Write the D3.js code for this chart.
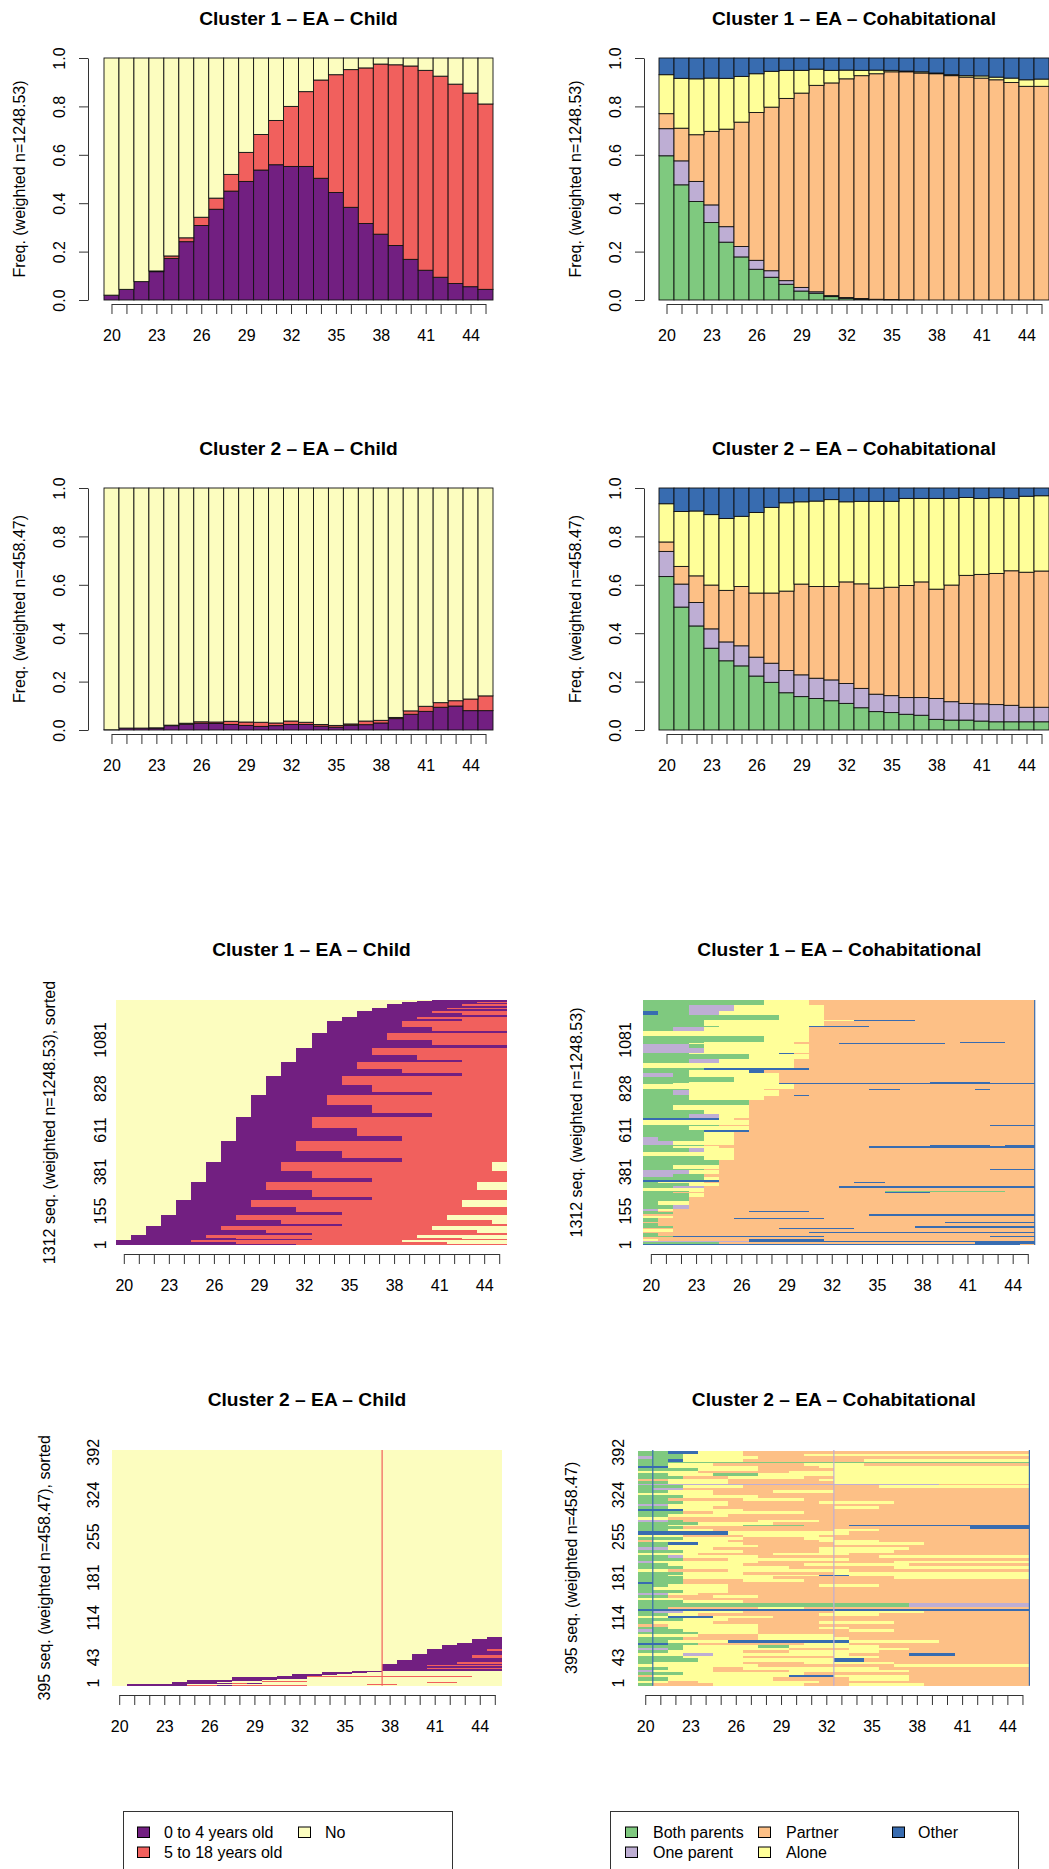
<!DOCTYPE html>
<html>
<head>
<meta charset="utf-8">
<script src="https://cdn.jsdelivr.net/npm/d3@7"></script>
<style>
  body { margin: 0; background: #fff; }
  svg { display: block; font-family: "Liberation Sans", Arial, Helvetica, sans-serif; }
</style>
</head>
<body>
<svg id="chart" width="1049" height="1869"></svg>
<script>
// =========================
// DATA
// =========================

const ages = [20, 21, 22, 23, 24, 25, 26, 27, 28, 29, 30, 31, 32, 33, 34, 35, 36, 37, 38, 39, 40, 41, 42, 43, 44, 45];
const xTickLabels = [20, 23, 26, 29, 32, 35, 38, 41, 44];
const freqTicks = [0, 0.2, 0.4, 0.6, 0.8, 1.0];

// child states: a = 0 to 4 years old, b = 5 to 18 years old, n = No
const childKeys = ['a', 'b', 'n'];
const childLabels = ['0 to 4 years old', '5 to 18 years old', 'No'];
const childColors = { a: '#721F81', b: '#F1605D', n: '#FCFDBF' };

// cohabitational states: g = Both parents, p = One parent, o = Partner, y = Alone, u = Other
const cohabKeys = ['g', 'p', 'o', 'y', 'u'];
const cohabLabels = ['Both parents', 'One parent', 'Partner', 'Alone', 'Other'];
const cohabColors = { g: '#7FC97F', p: '#BEAED4', o: '#FDC086', y: '#FFFF99', u: '#386CB0' };

// cluster 1 - child (state distribution)
const c1ChildA = [0.020, 0.044, 0.076, 0.117, 0.172, 0.241, 0.308, 0.375, 0.450, 0.490, 0.537, 0.559, 0.552, 0.552, 0.503, 0.444, 0.383, 0.316, 0.272, 0.225, 0.168, 0.123, 0.094, 0.068, 0.055, 0.044];
const c1ChildB = [0.000, 0.000, 0.000, 0.003, 0.010, 0.016, 0.034, 0.046, 0.069, 0.120, 0.147, 0.183, 0.248, 0.309, 0.406, 0.487, 0.569, 0.643, 0.703, 0.747, 0.799, 0.826, 0.831, 0.824, 0.800, 0.766];
const c1ChildN = [0.980, 0.956, 0.924, 0.880, 0.818, 0.743, 0.658, 0.579, 0.481, 0.390, 0.316, 0.258, 0.200, 0.139, 0.091, 0.069, 0.048, 0.041, 0.025, 0.028, 0.033, 0.051, 0.075, 0.108, 0.145, 0.190];

// cluster 1 - cohabitational
const c1CohabG = [0.596, 0.476, 0.407, 0.320, 0.239, 0.178, 0.127, 0.094, 0.065, 0.037, 0.028, 0.014, 0.007, 0.004, 0.002, 0.001, 0.001, 0, 0, 0, 0, 0, 0, 0, 0, 0];
const c1CohabP = [0.112, 0.099, 0.083, 0.073, 0.064, 0.043, 0.037, 0.027, 0.015, 0.015, 0.006, 0.004, 0.003, 0.002, 0.001, 0.001, 0, 0, 0, 0, 0, 0, 0, 0, 0, 0];
const c1CohabO = [0.062, 0.135, 0.193, 0.304, 0.403, 0.514, 0.611, 0.676, 0.753, 0.803, 0.853, 0.879, 0.904, 0.921, 0.932, 0.941, 0.942, 0.938, 0.935, 0.927, 0.921, 0.917, 0.910, 0.899, 0.883, 0.883];
const c1CohabY = [0.161, 0.206, 0.231, 0.220, 0.210, 0.189, 0.160, 0.148, 0.116, 0.094, 0.067, 0.052, 0.036, 0.022, 0.015, 0.006, 0.003, 0.005, 0.003, 0.004, 0.006, 0.009, 0.011, 0.018, 0.027, 0.030];
const c1CohabU = [0.069, 0.084, 0.086, 0.083, 0.084, 0.076, 0.065, 0.055, 0.051, 0.051, 0.046, 0.051, 0.050, 0.051, 0.050, 0.051, 0.054, 0.057, 0.062, 0.069, 0.073, 0.074, 0.079, 0.083, 0.090, 0.087];

// cluster 2 - child
const c2ChildA = [0.001, 0.008, 0.008, 0.008, 0.018, 0.024, 0.028, 0.027, 0.023, 0.019, 0.015, 0.018, 0.023, 0.023, 0.016, 0.012, 0.020, 0.022, 0.029, 0.047, 0.065, 0.077, 0.094, 0.099, 0.080, 0.080];
const c2ChildB = [0.000, 0.000, 0.000, 0.001, 0.002, 0.004, 0.006, 0.006, 0.013, 0.014, 0.017, 0.011, 0.014, 0.009, 0.007, 0.007, 0.005, 0.015, 0.011, 0.005, 0.014, 0.021, 0.019, 0.022, 0.048, 0.061];
const c2ChildN = [0.999, 0.992, 0.992, 0.991, 0.980, 0.972, 0.966, 0.967, 0.964, 0.967, 0.968, 0.971, 0.963, 0.968, 0.977, 0.981, 0.975, 0.963, 0.960, 0.948, 0.921, 0.902, 0.887, 0.879, 0.872, 0.859];

// cluster 2 - cohabitational
const c2CohabG = [0.634, 0.508, 0.430, 0.338, 0.286, 0.265, 0.223, 0.197, 0.154, 0.138, 0.130, 0.121, 0.110, 0.092, 0.076, 0.072, 0.065, 0.061, 0.044, 0.041, 0.041, 0.037, 0.034, 0.034, 0.034, 0.034];
const c2CohabP = [0.104, 0.095, 0.097, 0.080, 0.078, 0.083, 0.078, 0.079, 0.092, 0.090, 0.084, 0.086, 0.082, 0.080, 0.072, 0.070, 0.069, 0.073, 0.086, 0.076, 0.069, 0.071, 0.071, 0.068, 0.060, 0.060];
const c2CohabO = [0.039, 0.073, 0.110, 0.181, 0.213, 0.245, 0.265, 0.290, 0.328, 0.375, 0.379, 0.386, 0.420, 0.432, 0.438, 0.448, 0.463, 0.478, 0.452, 0.482, 0.529, 0.535, 0.542, 0.556, 0.558, 0.563];
const c2CohabY = [0.158, 0.227, 0.268, 0.291, 0.297, 0.290, 0.333, 0.354, 0.365, 0.340, 0.353, 0.359, 0.331, 0.341, 0.359, 0.355, 0.360, 0.345, 0.375, 0.358, 0.322, 0.314, 0.313, 0.299, 0.314, 0.311];
const c2CohabU = [0.065, 0.097, 0.095, 0.110, 0.126, 0.117, 0.101, 0.080, 0.061, 0.057, 0.054, 0.048, 0.057, 0.055, 0.055, 0.055, 0.043, 0.043, 0.043, 0.043, 0.039, 0.043, 0.040, 0.043, 0.034, 0.032];

// index plots: [weight, run-length sequence from age 20 to 45], listed bottom to top
const c1Total = 1248.53;
const c1IdxTickLabels = ['1', '155', '381', '611', '828', '1081'];
const c1IdxTickPos = [1, 173, 372, 586, 797, 1045];

const c1ChildSeq = [
  [5, 'a12b14'], [9, 'a8b14n4'], [11, 'a5b14n7'],
  [5, 'n1a12b13'], [8, 'n1a7b15n3'], [12, 'n1a5b14n6'],
  [9, 'n2a11b13'], [16, 'n2a8b14n2'], [21, 'n2a5b14n5'],
  [11, 'n3a12b11'], [20, 'n3a8b14n1'], [25, 'n3a5b14n4'],
  [15, 'n4a11b11'], [27, 'n4a8b14'], [34, 'n4a5b14n3'],
  [18, 'n5a12b9'], [32, 'n5a8b13'], [42, 'n5a5b14n2'],
  [20, 'n6a11b9'], [36, 'n6a7b13'], [46, 'n6a5b14n1'],
  [21, 'n7a12b7'], [38, 'n7a8b11'], [48, 'n7a5b14'],
  [24, 'n8a11b7'], [43, 'n8a8b10'], [55, 'n8a5b13'],
  [22, 'n9a12b5'], [39, 'n9a8b9'], [51, 'n9a5b12'],
  [19, 'n10a11b5'], [34, 'n10a7b9'], [44, 'n10a5b11'],
  [14, 'n11a12b3'], [25, 'n11a8b7'], [32, 'n11a5b10'],
  [14, 'n12a11b3'], [25, 'n12a8b6'], [32, 'n12a5b9'],
  [15, 'n13a13'], [27, 'n13a8b5'], [34, 'n13a5b8'],
  [12, 'n14a12'], [21, 'n14a7b5'], [28, 'n14a5b7'],
  [5, 'n15a11'], [9, 'n15a8b3'], [11, 'n15a5b6'],
  [8, 'n16a10'], [10, 'n16a7b3'], [13, 'n16a5b5'],
  [6, 'n17a9'], [9, 'n17a5b4'],
  [8, 'n18a8'], [12, 'n18a5b3'],
  [5, 'n19a7'], [5, 'n19a5b2'],
  [5, 'n20a6'],
  [3.53, 'n21a5']
];

const c1CohabSeq = [
  [5, 'u25o1'], [8, 'g5o17u4'], [7, 'p7u19'], [10, 'y1o6u5o14'], [12, 'o26'],
  [6, 'g2u10o11u3'], [14, 'g1o25'], [6, 'o11u15'], [14, 'y2o24'], [6, 'o9u5o12'],
  [10, 'g2o16u8'], [12, 'g1o25'], [6, 'o20u6'], [16, 'g1o25'], [6, 'g1o5u6o14'],
  [12, 'y2o24'], [6, 'o15u11'], [10, 'g2o24'], [6, 'g1o6u4o15'], [14, 'p1y1o24'],
  [20, 'g2p1o23'], [16, 'g1y2o23'], [25, 'g3o23'],
  [18, 'g3y1o22'], [6, 'g2o14u3o7'], [6, 'g3y1o12g8o2'], [14, 'y4o22'], [8, 'g2p2o9u13'],
  [16, 'g3y2o21'], [6, 'g1y3o10u2o10'], [8, 'u5o21'], [20, 'g4y1o21'], [14, 'p2g2o22'],
  [18, 'p3y2o21'], [8, 'g4o19u3'], [20, 'g2y3o21'], [25, 'g5o21'],
  [22, 'g4y2o20'], [18, 'y6o20'], [20, 'g3p1y2o20'], [8, 'g2y3o10u11'], [6, 'g4o15u4o1u2'],
  [24, 'p2y4o20'], [20, 'p1g3y2o20'], [26, 'g4y2o20'], [8, 'g4u3o19'], [22, 'g3y4o19'],
  [6, 'g5o18u3'], [24, 'y7o19'], [8, 'u5y1o20'], [20, 'g3p2y2o19'], [24, 'g4y3o19'],
  [22, 'g2y5o19'], [28, 'g7o19'],
  [20, 'g3y5o18'], [6, 'g3y6o1u1o15'], [22, 'g2p1y6o17'], [6, 'g3y5o7u2o5u1o3'], [24, 'y10o16'],
  [6, 'g2y7u17'], [6, 'g3y6o10u4o3'], [26, 'g6y3o17'], [20, 'p2g1y6o17'], [17, 'g3y4u1o18'],
  [8, 'g4u7o15'], [26, 'y10o16'], [22, 'g3p2y5o16'], [24, 'g7y4o15'], [6, 'g3y6u1o16'],
  [26, 'p4y7o15'], [20, 'p3g1y7o15'], [6, 'g3y7o3u7o6'], [6, 'g4y6o11u3o2'], [28, 'g8y3o15'],
  [24, 'y11o15'], [22, 'g2p2y7o15'], [6, 'g5y6u4o11'], [26, 'g4y8o14'], [6, 'g4y10u4o8'],
  [24, 'g9y3o14'], [20, 'u1g2p2y7o14'], [30, 'g3p3y6o14'], [25.53, 'g8y3o15']
];

const c2Total = 458.47;
const c2IdxTickLabels = ['1', '43', '114', '181', '255', '324', '392'];
const c2IdxTickPos = [5, 55, 132, 210, 290, 371, 454];

const c2ChildSeq = [
  [2, 'n1a4b2a1b5n13'], [2, 'n1a4n12b2n7'], [2, 'n4a4b1a1n16'], [2, 'n4a3n14b2n3'],
  [2, 'n5a3n2b3n13'], [2, 'n5a5n16'], [2, 'n8a3n15'], [2, 'n8a5n13'],
  [2, 'n11a2b11n2'], [2, 'n12a2n12'], [2, 'n12a3n11'], [2, 'n14a2n10'],
  [2, 'n14a3n9'], [2, 'n16a2n8'], [1, 'n17a2n7'],
  [4, 'n18a8'], [2, 'n18a3b5'], [4, 'n18a8'], [2, 'n18a3b5'], [2, 'n18a8'],
  [3, 'n19a4b3'], [3.5, 'n19a7'],
  [5, 'n20a6'], [5, 'n20a4b2'], [2, 'n20a6'],
  [6, 'n21a5'], [3, 'n21a4b1'],
  [8.5, 'n22a4'], [5, 'n23a3'], [6, 'n24a2'], [4.5, 'n25a1'],
  [363.97, 'n26']
];

const c2CohabSeq = [
  [5, 'g1o4y6o3y5o7'], [5, 'y2o2y8o14'], [6, 'g2y7o5y4o8'], [5, 'o1y9u3y5o8'], [5, 'g3y8o15'],
  [5, 'p1y4o5y8o8'], [6, 'g2y3o2y9o10'], [5, 'y8o9y9'], [5, 'g1y6o4y6o9'], [6, 'g4y9u2o11'],
  [5, 'g3y4o6y3o10'], [5, 'y3p2y9o4u3o5'], [6, 'g2y5o3y6o10'], [5, 'p2g1y7o4y4o8'], [5, 'g3y5g2y6o10'],
  [5, 'u2g2o7y3o12'], [5, 'g2y4u8y6o6'], [6, 'g3o5y6o12'], [5, 'y4o4y5o13'], [5, 'g4y4o18'],
  [5, 'p1g2y5o6y3o9'], [5, 'g2y6o4y2o12'], [5, 'o2y6o18'], [5, 'g1y4o7y5o9'], [6, 'g3y3o20'],
  [5, 'y2u3y4o17'], [5, 'g2y2o8y4o10'], [5, 'g1p2y4o6y6o7'], [3, 'u26'], [5, 'g2o6y3o15'],
  [7, 'g18p8'], [5, 'g3y4o19'], [5, 'y3o23'], [5, 'g2o3y3o18'], [5, 'p2y2o22'],
  [6, 'g3y3o20'], [5, 'g1y5o20'], [5, 'g2y4o6y4o10'], [5, 'u1g2o23'], [5, 'g3o4y4o15'],
  [6, 'g3y6o8y9'], [3, 'g2y10u2y12'], [6, 'g3y4o6y13'], [5, 'y2o4y8o12'], [6, 'g3y7o7y9'],
  [5, 'g2y5o4y7o8'], [5, 'p1y7o9y9'], [6, 'g3o3y8o12'], [5, 'g2p1y5o8y10'], [5, 'y4o5y5o12'],
  [5, 'g3y4o5y5o9'], [5, 'p2y3o7y6o8'], [5, 'g2y6o18'], [5, 'g2u2y3o6y6o7'], [5, 'o1y5o6y4o10'],
  [5, 'g3y4o4y2o13'], [5, 'y3o4y5o14'], [6, 'u6y8o12'], [5, 'g2y3o8y3o10'], [5, 'g3o19u4'],
  [3, 'g2y5g4o3u12'], [5, 'g4y5o17'], [5, 'p2g1o5y4o14'], [5, 'y2o24'], [6, 'g2y4o20'],
  [5, 'g3o2y6o15'], [5, 'u3y4o19'], [5, 'g2y3o8y3o10'], [5, 'p2y4o20'], [6, 'g3y3o6y5o9'],
  [5, 'g2o5y4o15'], [5, 'g3y5o18'], [5, 'y5o21'], [5, 'g2y3o4y4o13'], [5, 'g1p2o23'],
  [5, 'g3y4o9y10'], [3, 'p20o6'], [5, 'g2y4o7y13'], [5, 'o2y4o6y14'], [5, 'g3o3y5o2y13'],
  [5, 'g2y3g3y18'], [5, 'y4o6y16'], [5, 'g4y4o5y13'], [5, 'u2y6o4y14'], [5, 'g2y3o6y4o11'],
  [3, 'g26'], [5, 'g2u1y4o8y11'], [5, 'p1g2y5o18'], [5, 'g3y4o4y15'], [6.47, 'g2u2y3o19']
];

// thin vertical streaks seen in the index plots: [age edge index, state]
const c1CohabStreaks = [[26, 'u']];
const c2ChildStreaks = [[18, 'b']];
const c2CohabStreaks = [[1, 'u'], [13, 'p'], [26, 'u']];

// =========================
// HELPERS
// =========================

const svg = d3.select('#chart');
const FONT = '"Liberation Sans", Arial, Helvetica, sans-serif';

function parseRuns(code) {
  const runs = [];
  let pos = 0;
  code.replace(/([a-z])(\d+)/g, (m, s, n) => {
    runs.push({ state: s, start: pos, len: +n });
    pos += +n;
  });
  return runs;
}

function drawTitle(cx, y, text) {
  svg.append('text')
    .attr('x', cx)
    .attr('y', y)
    .attr('text-anchor', 'middle')
    .style('font-size', '19.2px')
    .style('font-weight', 'bold')
    .text(text);
}

function drawYTitle(x, cy, text) {
  svg.append('text')
    .attr('transform', `translate(${x},${cy}) rotate(-90)`)
    .attr('text-anchor', 'middle')
    .style('font-size', '16px')
    .text(text);
}

function drawAgeAxis(left, right, y) {
  const cell = (right - left) / ages.length;
  const x = d3.scaleLinear()
    .domain([ages[0], ages[ages.length - 1]])
    .range([left + cell / 2, right - cell / 2]);

  const ax = svg.append('g')
    .attr('transform', `translate(0,${y})`)
    .call(d3.axisBottom(x)
      .tickValues(ages)
      .tickSize(10)
      .tickSizeOuter(0)
      .tickFormat(d => xTickLabels.includes(d) ? d : ''));

  ax.select('.domain').attr('stroke', '#333');
  ax.selectAll('.tick line').attr('stroke', '#333');
  ax.selectAll('text')
    .attr('y', 37)
    .attr('dy', null)
    .attr('fill', '#000')
    .style('font-size', '16px')
    .style('font-family', FONT);
}

// =========================
// STATE DISTRIBUTION PLOTS
// =========================

function drawBarPanel(p, keys, colors, series, title, ytitle) {
  const rows = ages.map((age, i) => {
    const r = { age };
    keys.forEach((k, j) => { r[k] = series[j][i]; });
    return r;
  });
  const layers = d3.stack().keys(keys)(rows);

  const x = d3.scaleBand().domain(ages).range([p.left, p.right]).padding(0);
  const y = d3.scaleLinear().domain([0, 1]).range([p.bottom, p.top]);

  svg.append('g')
    .selectAll('g')
    .data(layers)
    .join('g')
    .attr('fill', d => colors[d.key])
    .selectAll('rect')
    .data(d => d)
    .join('rect')
    .attr('x', d => x(d.data.age))
    .attr('width', x.bandwidth())
    .attr('y', d => y(Math.min(d[1], 1)))
    .attr('height', d => y(d[0]) - y(Math.min(d[1], 1)))
    .attr('stroke', '#111')
    .attr('stroke-width', 0.9);

  const ay = svg.append('g')
    .attr('transform', `translate(${p.axisX},0)`)
    .call(d3.axisLeft(y)
      .tickValues(freqTicks)
      .tickFormat(d3.format('.1f'))
      .tickSize(9)
      .tickSizeOuter(0));

  ay.select('.domain').attr('stroke', '#333');
  ay.selectAll('.tick line').attr('stroke', '#333');
  ay.selectAll('text')
    .attr('x', null)
    .attr('dy', null)
    .attr('transform', 'translate(-23,0) rotate(-90)')
    .attr('text-anchor', 'middle')
    .attr('fill', '#000')
    .style('font-size', '16px')
    .style('font-family', FONT);

  drawAgeAxis(p.left, p.right, p.axisY);
  drawTitle((p.left + p.right) / 2, p.top - 33, title);
  drawYTitle(p.axisX - 63, (p.top + p.bottom) / 2, ytitle);
}

// =========================
// INDEX PLOTS
// =========================

function drawIndexPanel(p, colors, seqRows, total, tickLabels, tickPos, streaks, title, ytitle) {
  const x = d3.scaleLinear().domain([0, ages.length]).range([p.left, p.right]);
  const y = d3.scaleLinear().domain([0, total]).range([p.bottom, p.top]);

  const cells = [];
  let cum = 0;
  seqRows.forEach(([w, code]) => {
    parseRuns(code).forEach(r => cells.push({ ...r, y0: cum, y1: cum + w }));
    cum += w;
  });

  svg.append('g')
    .attr('shape-rendering', 'crispEdges')
    .selectAll('rect')
    .data(cells)
    .join('rect')
    .attr('x', d => x(d.start))
    .attr('width', d => x(d.start + d.len) - x(d.start))
    .attr('y', d => y(d.y1))
    .attr('height', d => y(d.y0) - y(d.y1))
    .attr('fill', d => colors[d.state]);

  svg.append('g')
    .selectAll('line')
    .data(streaks)
    .join('line')
    .attr('x1', d => Math.min(x(d[0]), p.right - 0.6))
    .attr('x2', d => Math.min(x(d[0]), p.right - 0.6))
    .attr('y1', p.top)
    .attr('y2', p.bottom)
    .attr('stroke', d => colors[d[1]])
    .attr('stroke-width', 1.2);

  svg.append('g')
    .selectAll('text')
    .data(tickLabels)
    .join('text')
    .attr('transform', (d, i) => `translate(${p.labelX},${y(tickPos[i])}) rotate(-90)`)
    .attr('text-anchor', 'middle')
    .style('font-size', '16px')
    .text(d => d);

  drawAgeAxis(p.left, p.right, p.axisY);
  drawTitle((p.left + p.right) / 2, p.top - 44, title);
  drawYTitle(p.titleX, (p.top + p.bottom) / 2, ytitle);
}

// =========================
// LEGENDS
// =========================

function drawLegend(box, labels, keys, colors, squareX, textX) {
  svg.append('rect')
    .attr('x', box.x + 0.5)
    .attr('y', box.y + 0.5)
    .attr('width', box.w)
    .attr('height', 120)
    .attr('fill', 'none')
    .attr('stroke', '#333');

  const rowY = [1838, 1858];
  const items = svg.append('g')
    .selectAll('g')
    .data(labels)
    .join('g')
    .attr('transform', (d, i) => `translate(0,${rowY[i % 2]})`);

  items.append('rect')
    .attr('x', (d, i) => squareX[Math.floor(i / 2)] + 0.5)
    .attr('y', -11)
    .attr('width', 12)
    .attr('height', 10.5)
    .attr('fill', (d, i) => colors[keys[i]])
    .attr('stroke', '#000');

  items.append('text')
    .attr('x', (d, i) => textX[Math.floor(i / 2)])
    .attr('y', 0)
    .style('font-size', '16px')
    .text(d => d);
}

// =========================
// DRAW
// =========================

drawBarPanel({ left: 104, right: 493, top: 58, bottom: 300, axisX: 88, axisY: 304 },
  childKeys, childColors, [c1ChildA, c1ChildB, c1ChildN],
  'Cluster 1 \u2013 EA \u2013 Child', 'Freq. (weighted n=1248.53)');

drawBarPanel({ left: 659, right: 1049, top: 58, bottom: 300, axisX: 644, axisY: 304 },
  cohabKeys, cohabColors, [c1CohabG, c1CohabP, c1CohabO, c1CohabY, c1CohabU],
  'Cluster 1 \u2013 EA \u2013 Cohabitational', 'Freq. (weighted n=1248.53)');

drawBarPanel({ left: 104, right: 493, top: 488, bottom: 730, axisX: 88, axisY: 734 },
  childKeys, childColors, [c2ChildA, c2ChildB, c2ChildN],
  'Cluster 2 \u2013 EA \u2013 Child', 'Freq. (weighted n=458.47)');

drawBarPanel({ left: 659, right: 1049, top: 488, bottom: 730, axisX: 644, axisY: 734 },
  cohabKeys, cohabColors, [c2CohabG, c2CohabP, c2CohabO, c2CohabY, c2CohabU],
  'Cluster 2 \u2013 EA \u2013 Cohabitational', 'Freq. (weighted n=458.47)');

drawIndexPanel({ left: 116.3, right: 506.7, top: 1000, bottom: 1245, axisY: 1254, labelX: 106, titleX: 55 },
  childColors, c1ChildSeq, c1Total, c1IdxTickLabels, c1IdxTickPos, [],
  'Cluster 1 \u2013 EA \u2013 Child', '1312 seq. (weighted n=1248.53), sorted');

drawIndexPanel({ left: 643.3, right: 1035.3, top: 1000, bottom: 1245, axisY: 1254, labelX: 631, titleX: 582 },
  cohabColors, c1CohabSeq, c1Total, c1IdxTickLabels, c1IdxTickPos, c1CohabStreaks,
  'Cluster 1 \u2013 EA \u2013 Cohabitational', '1312 seq. (weighted n=1248.53)');

drawIndexPanel({ left: 111.7, right: 502.3, top: 1450, bottom: 1685.7, axisY: 1695, labelX: 99, titleX: 50 },
  childColors, c2ChildSeq, c2Total, c2IdxTickLabels, c2IdxTickPos, c2ChildStreaks,
  'Cluster 2 \u2013 EA \u2013 Child', '395 seq. (weighted n=458.47), sorted');

drawIndexPanel({ left: 637.7, right: 1030, top: 1450, bottom: 1685.7, axisY: 1695, labelX: 624, titleX: 577 },
  cohabColors, c2CohabSeq, c2Total, c2IdxTickLabels, c2IdxTickPos, c2CohabStreaks,
  'Cluster 2 \u2013 EA \u2013 Cohabitational', '395 seq. (weighted n=458.47)');

drawLegend({ x: 123, y: 1811, w: 329 }, childLabels, childKeys, childColors, [137, 298], [164, 325]);
drawLegend({ x: 610, y: 1811, w: 408 }, cohabLabels, cohabKeys, cohabColors, [625, 758, 892], [653, 786, 918]);
</script>
</body>
</html>
